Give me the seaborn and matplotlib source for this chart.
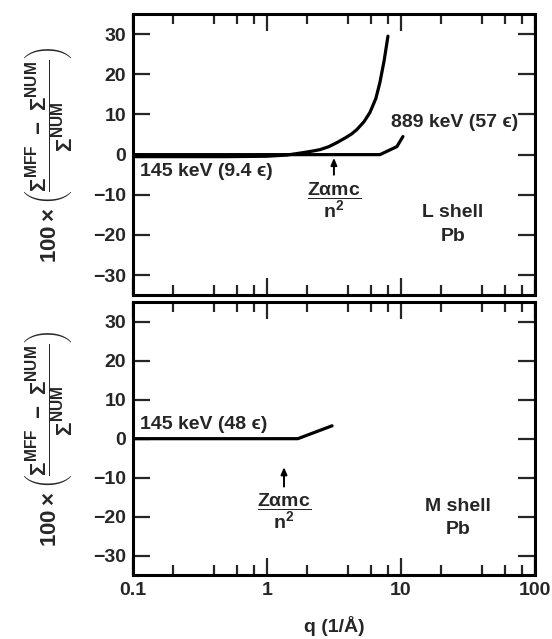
import matplotlib
matplotlib.use("Agg")
import matplotlib.pyplot as plt
import seaborn as sns
import pandas as pd
from matplotlib.ticker import LogLocator, NullFormatter, FixedLocator

# ---- data ----
top_145_q = [0.1, 0.5, 1.0, 1.41, 1.86, 2.2, 2.49, 2.9, 3.33, 3.9, 4.3, 4.69, 5.3, 5.87, 6.5, 6.97, 7.5, 8.0]
top_145_y = [-0.5, -0.5, -0.4, -0.1, 0.5, 0.9, 1.25, 2.0, 3.0, 4.3, 5.2, 6.25, 8.2, 10.5, 14.0, 18.0, 23.5, 29.5]
top_889_q = [0.1, 6.97, 9.33, 10.35]
top_889_y = [0.0, 0.0, 2.0, 4.5]
bot_145_q = [0.1, 1.70, 3.06]
bot_145_y = [0.0, 0.0, 3.3]

x_ticks = [0.1, 1, 10, 100]
x_ticklabels = ["0.1", "1", "10", "100"]
y_ticks = [-30, -20, -10, 0, 10, 20, 30]
y_ticklabels = ["−30", "−20", "−10", "0", "10", "20", "30"]

sns.set_theme(style="ticks")
plt.rcParams["font.family"] = ["Liberation Sans", "DejaVu Sans"]
plt.rcParams["font.weight"] = "bold"
plt.rcParams["mathtext.fontset"] = "custom"
plt.rcParams["mathtext.rm"] = "Liberation Sans:bold"
plt.rcParams["mathtext.bf"] = "Liberation Sans:bold"
plt.rcParams["mathtext.it"] = "Liberation Sans:bold:italic"
plt.rcParams["mathtext.default"] = "bf"

FS = 14
fig = plt.figure(figsize=(5.52, 6.39), dpi=100)
ax1 = fig.add_axes([0.241, 0.538, 0.728, 0.440])
ax2 = fig.add_axes([0.241, 0.100, 0.728, 0.427])

lw = 2.3
sns.lineplot(data=pd.DataFrame({"q": top_145_q, "v": top_145_y}), x="q", y="v",
             ax=ax1, color="black", lw=lw, estimator=None)
sns.lineplot(data=pd.DataFrame({"q": top_889_q, "v": top_889_y}), x="q", y="v",
             ax=ax1, color="black", lw=lw, estimator=None)
sns.lineplot(data=pd.DataFrame({"q": bot_145_q, "v": bot_145_y}), x="q", y="v",
             ax=ax2, color="black", lw=lw, estimator=None)

ylab = (r"$100\times\left(\dfrac{\Sigma^{\mathrm{MFF}}\ -\ \Sigma^{\mathrm{NUM}}}"
        r"{\Sigma^{\mathrm{NUM}}}\right)$")

for ax in (ax1, ax2):
    ax.set_xscale("log")
    ax.set_xlim(0.1, 100)
    ax.set_ylim(-35, 35)
    ax.xaxis.set_major_locator(FixedLocator(x_ticks))
    ax.xaxis.set_minor_locator(LogLocator(base=10, subs=[2, 4, 6, 8]))
    ax.xaxis.set_minor_formatter(NullFormatter())
    ax.set_yticks(y_ticks)
    ax.set_yticklabels(y_ticklabels, fontsize=FS, fontweight="bold")
    ax.tick_params(which="major", direction="in", length=12, width=1.6,
                   top=True, right=True, pad=5)
    ax.tick_params(which="minor", direction="in", length=7, width=1.6,
                   top=True, right=True)
    for s in ax.spines.values():
        s.set_linewidth(2.2)
        s.set_color("black")
    ax.set_ylabel(ylab, fontsize=FS + 2, labelpad=14)

ax1.set_xticklabels([])
ax1.set_xlabel("")
ax2.set_xticklabels(x_ticklabels, fontsize=FS, fontweight="bold")
ax2.set_xlabel("q (1/Å)", fontsize=FS, fontweight="bold", labelpad=12)

eps = "ϵ"
arrow_kw = dict(arrowstyle="-|>,head_length=0.35,head_width=0.15", color="black",
                lw=1.4, shrinkA=0, shrinkB=0)

# ---- annotations top ----
ax1.text(0.113, -4.3, f"145 keV (9.4 {eps})", fontsize=FS, va="center", ha="left")
ax1.text(8.42, 8.0, f"889 keV (57 {eps})", fontsize=FS, va="center", ha="left")
ax1.annotate("", xy=(3.16, -0.8), xytext=(3.16, -5.0), arrowprops=arrow_kw)
ax1.text(3.16, -11.4, r"$\dfrac{Z\alpha mc}{n^2}$", fontsize=FS, ha="center", va="center")
ax1.text(24.4, -14.3, "L shell", fontsize=FS, ha="center", va="center")
ax1.text(24.4, -20.3, "Pb", fontsize=FS, ha="center", va="center")

# ---- annotations bottom ----
ax2.text(0.113, 3.6, f"145 keV (48 {eps})", fontsize=FS, va="center", ha="left")
ax2.annotate("", xy=(1.34, -7.3), xytext=(1.34, -12.3), arrowprops=arrow_kw)
ax2.text(1.34, -18.6, r"$\dfrac{Z\alpha mc}{n^2}$", fontsize=FS, ha="center", va="center")
ax2.text(26.5, -17.5, "M shell", fontsize=FS, ha="center", va="center")
ax2.text(26.5, -23.2, "Pb", fontsize=FS, ha="center", va="center")

fig.savefig("out.png", dpi=100, facecolor="white")
